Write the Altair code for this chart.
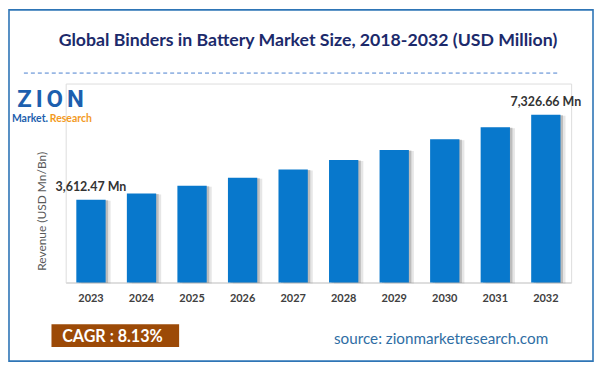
import altair as alt
import pandas as pd

years = ["2023", "2024", "2025", "2026", "2027", "2028", "2029", "2030", "2031", "2032"]
revenue = [3612.47, 3890.0, 4226.0, 4570.0, 4930.0, 5350.0, 5785.0, 6260.0, 6775.0, 7326.66]
bar_labels = ["3,612.47 Mn", "", "", "", "", "", "", "", "", "7,326.66 Mn"]

title_text = "Global Binders in Battery Market Size, 2018-2032 (USD Million)"
y_title = "Revenue (USD Mn/Bn)"
cagr_text = "CAGR :  8.13%"
source_text = "source: zionmarketresearch.com"
logo_letters = ["Z", "I", "O", "N"]
logo_letter_x = [-41.5, -26.7, -11, 9.8]

df = pd.DataFrame({"year": years, "revenue": revenue, "label": bar_labels})
one = pd.DataFrame({"a": [0]})
logo_df = pd.DataFrame({"ch": logo_letters, "px": logo_letter_x})

FONT = "Lato"

xenc = alt.X("year:N", sort=years,
             scale=alt.Scale(paddingInner=0.42, paddingOuter=0.21),
             axis=alt.Axis(title=None, labelAngle=0, ticks=False, domainColor="#d9d9d9",
                           domainWidth=1.5, labelFont=FONT, labelFontWeight="bold",
                           labelFontSize=11, labelColor="#404040", labelPadding=10))
yenc = alt.Y("revenue:Q", scale=alt.Scale(domain=[0, 8690], nice=False), axis=None)

base = alt.Chart(df)

shadow2 = base.mark_bar(color="#9a9a9a", opacity=0.25, xOffset=5, yOffset=1).encode(x=xenc, y=yenc)
shadow1 = base.mark_bar(color="#8a8a8a", opacity=0.45, xOffset=2.5, yOffset=0.5).encode(x=xenc, y=yenc)
bars = base.mark_bar(color="#0878cc").encode(x=xenc, y=yenc)
labels = base.mark_text(font=FONT, fontWeight="bold", fontSize=12.5, color="#333333",
                        baseline="alphabetic", dy=-9).encode(x=xenc, y=yenc, text="label:N")

o = alt.Chart(one)
border = o.mark_rect(fillOpacity=0, stroke="#2e75b6", strokeWidth=1.6).encode(
    x=alt.value(-57), x2=alt.value(530), y=alt.value(-74), y2=alt.value(279))
title = o.mark_text(font=FONT, fontWeight="bold", fontSize=17.8, color="#1c2a6b",
                    align="center", baseline="alphabetic").encode(
    x=alt.value(243.5), y=alt.value(-38), text=alt.value(title_text))
dashed = o.mark_rule(stroke="#4a7fcf", strokeWidth=1, strokeDash=[4, 3]).encode(
    x=alt.value(-42), x2=alt.value(495), y=alt.value(-10.5))
logo1 = alt.Chart(logo_df).mark_text(font="Roboto", fontWeight="bold", fontSize=24,
                                     color="#1d5fae", align="center",
                                     baseline="alphabetic").encode(
    x=alt.X("px:Q", scale=None), y=alt.value(23.5), text="ch:N")
logo2 = o.mark_text(font=FONT, fontWeight="bold", fontSize=10.5, color="#1d5fae",
                    align="right", baseline="alphabetic").encode(
    x=alt.value(-17.8), y=alt.value(39), text=alt.value("Market."))
logo3 = o.mark_text(font=FONT, fontWeight="bold", fontSize=10.5, color="#f39a1e",
                    align="left", baseline="alphabetic").encode(
    x=alt.value(-16), y=alt.value(39), text=alt.value("Research"))
ytitle = o.mark_text(font=FONT, fontSize=12, color="#595959", angle=270,
                     align="center", baseline="middle").encode(
    x=alt.value(-23.5), y=alt.value(128.5), text=alt.value(y_title))
cagr_box = o.mark_rect(fill="#9c4a07").encode(
    x=alt.value(-14.3), x2=alt.value(114), y=alt.value(242), y2=alt.value(264.7))
cagr = o.mark_text(font=FONT, fontWeight="bold", fontSize=16.2, color="#ffffff",
                   align="center", baseline="alphabetic").encode(
    x=alt.value(47), y=alt.value(259.5), text=alt.value(cagr_text))
source = o.mark_text(font=FONT, fontSize=15.3, color="#2e6da4",
                     align="left", baseline="alphabetic").encode(
    x=alt.value(269.7), y=alt.value(262), text=alt.value(source_text))

chart = alt.layer(
    border, title, dashed, logo1, logo2, logo3, ytitle,
    shadow2, shadow1, bars, labels, cagr_box, cagr, source
).properties(
    width=508, height=200,
    autosize=alt.AutoSizeParams(type="none"),
    padding={"left": 58, "top": 75, "right": 23, "bottom": 81},
).configure_view(stroke=None).configure(background="white")

chart.save("out.html", embed_options={"renderer": "svg", "actions": False})
